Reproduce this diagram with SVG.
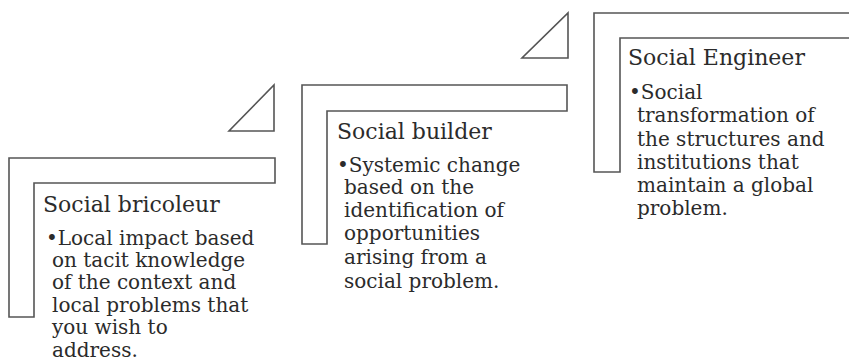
<svg xmlns="http://www.w3.org/2000/svg" width="849" height="362" viewBox="0 0 849 362">
<style>
.shape{fill:#fff;stroke:#555;stroke-width:1.6}
.h{font-family:"DejaVu Serif","Liberation Serif",serif;font-size:22px;fill:#2b2b2b}
.b{font-family:"DejaVu Serif","Liberation Serif",serif;font-size:20px;fill:#2b2b2b}
</style>
<rect width="849" height="362" fill="#fff"/>
<g id="connectors">
<polygon class="shape" points="274,85 274,131 229,131"/>
<polygon class="shape" points="568,13 568,58 522,58"/>
</g>
<g id="bricoleur">
<polygon class="shape" points="9,158 275,158 275,183 34,183 34,317 9,317"/>
<text class="h" x="43" y="212">Social bricoleur</text>
<text class="b"><tspan x="46" y="245">•Local impact based</tspan><tspan x="52" y="267">on tacit knowledge</tspan><tspan x="52" y="289">of the context and</tspan><tspan x="52" y="312">local problems that</tspan><tspan x="52" y="334">you wish to</tspan><tspan x="52" y="357">address.</tspan></text>
</g>
<g id="builder">
<polygon class="shape" points="302,85 567,85 567,111 327,111 327,244 302,244"/>
<text class="h" x="337" y="139">Social builder</text>
<text class="b"><tspan x="337" y="172">•Systemic change</tspan><tspan x="344" y="194">based on the</tspan><tspan x="344" y="217">identification of</tspan><tspan x="344" y="240">opportunities</tspan><tspan x="344" y="264">arising from a</tspan><tspan x="344" y="288">social problem.</tspan></text>
</g>
<g id="engineer">
<polygon class="shape" points="594,13 852,13 852,38 620,38 620,172 594,172"/>
<text class="h" x="628" y="65">Social Engineer</text>
<text class="b"><tspan x="629" y="99">•Social</tspan><tspan x="637" y="122">transformation of</tspan><tspan x="637" y="146">the structures and</tspan><tspan x="637" y="169">institutions that</tspan><tspan x="637" y="192">maintain a global</tspan><tspan x="637" y="215">problem.</tspan></text>
</g>
</svg>
